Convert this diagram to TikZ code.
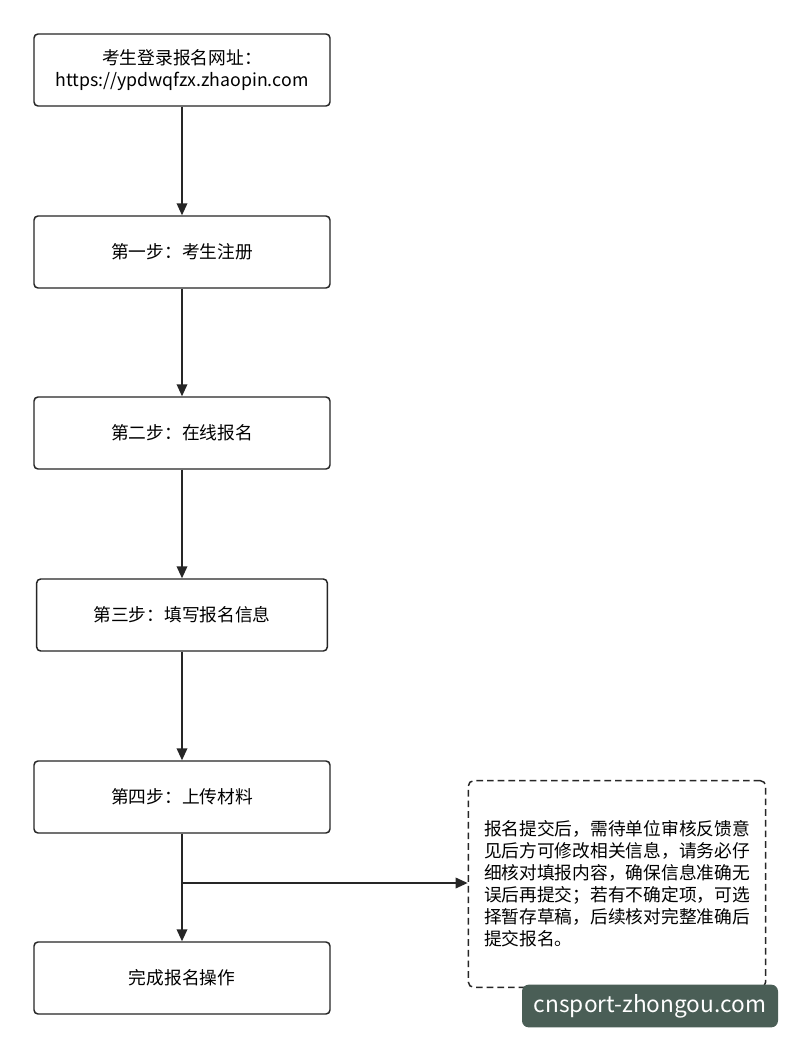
\documentclass[tikz,border=0pt]{standalone}
\usepackage{fontspec}
\setmainfont{Noto Sans CJK SC}
\usetikzlibrary{arrows.meta}
\begin{document}
\begin{tikzpicture}[x=0.75pt,y=-0.75pt,
  stepbox/.style={draw=black!85,line width=1.1pt,rounded corners=3pt,minimum width=222pt,minimum height=54pt,font=\fontsize{13.3}{16.5}\selectfont,align=center},
  arr/.style={draw=black!85,line width=1.1pt,-{Triangle[length=9pt,width=8pt]}}]
\useasboundingbox (0,0) rectangle (800,1049);
\fill[white] (0,0) rectangle (800,1049);
\node[stepbox] (b1) at (182,70) {考生登录报名网址：\\https://ypdwqfzx.zhaopin.com};
\node[stepbox] (b2) at (182,252) {第一步：考生注册};
\node[stepbox] (b3) at (182,433) {第二步：在线报名};
\node[stepbox,minimum width=218pt] (b4) at (182,615) {第三步：填写报名信息};
\node[stepbox] (b5) at (182,797) {第四步：上传材料};
\node[stepbox] (b6) at (182,978) {完成报名操作};
\draw[arr] (b1) -- (b2);
\draw[arr] (b2) -- (b3);
\draw[arr] (b3) -- (b4);
\draw[arr] (b4) -- (b5);
\draw[arr] (b5) -- (b6);
\node[draw=black!85,line width=1.1pt,dash pattern=on 5pt off 3pt,rounded corners=4pt,minimum width=223pt,minimum height=155pt,align=left,font=\fontsize{13.3}{16.5}\selectfont] (note) at (617,884) {报名提交后，需待单位审核反馈意\\见后方可修改相关信息，请务必仔\\细核对填报内容，确保信息准确无\\误后再提交；若有不确定项，可选\\择暂存草稿，后续核对完整准确后\\提交报名。};
\coordinate (br) at (182,883);
\draw[arr] (br) -- (note.west |- br);
\node[fill={rgb,255:red,74;green,94;blue,86},rounded corners=5pt,minimum width=192pt,minimum height=32pt,text=white,font=\fontsize{17}{20}\selectfont] (wm) at (650,1006) {cnsport-zhongou.com};
\end{tikzpicture}
\end{document}
